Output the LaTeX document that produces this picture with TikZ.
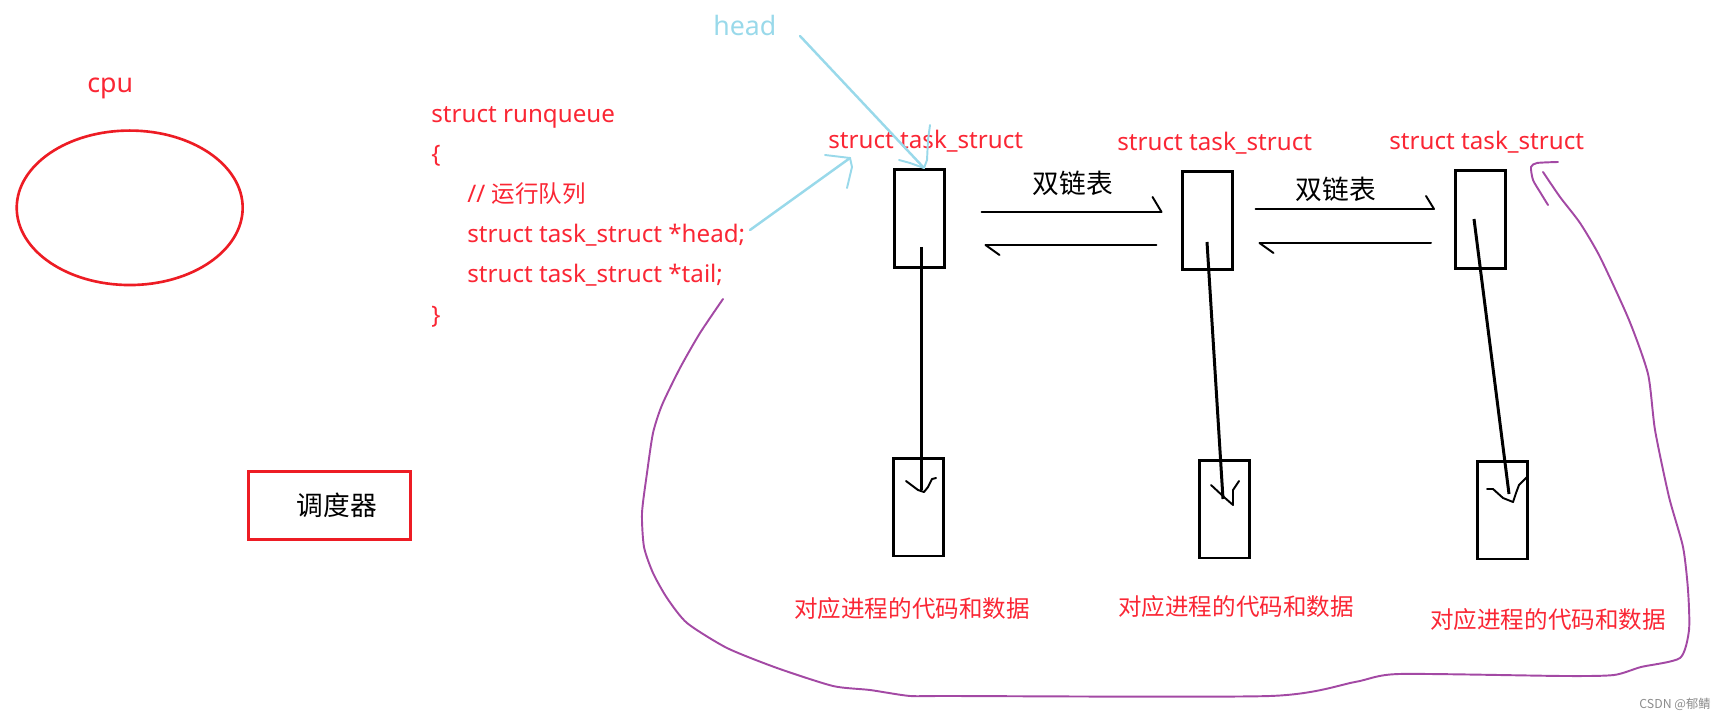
\documentclass[tikz,border=0pt]{standalone}
\usepackage{fontspec}
\setmainfont{Noto Sans}
\newfontfamily\cjk{Noto Sans CJK SC}
\usepackage{xcolor}
\usepackage{tikz}
\usetikzlibrary{calc}
\usetikzlibrary{shapes.geometric}
\definecolor{pred}{RGB}{237,28,36}
\definecolor{tred}{RGB}{250,38,52}
\definecolor{pblue}{RGB}{153,217,234}
\definecolor{ppurple}{RGB}{163,73,164}
\tikzset{
	redtxt/.style={text=tred,font=\fontsize{13.75}{16}\selectfont,inner sep=0pt},
	cjktxt/.style={text=tred,font=\fontsize{13.4}{16}\selectfont\cjk,inner sep=0pt},
	blktxt/.style={text=black,font=\fontsize{15.2}{18}\selectfont\cjk,inner sep=0pt},
	tbox/.style={draw,line width=1.7pt,minimum width=1cm,minimum height=1.96cm,inner sep=0pt},
	link/.style={line width=1.7pt},
	hand/.style={line width=1.1pt,line cap=round,line join=round},
}

\begin{document}
\begin{tikzpicture}[x=0.02cm,y=-0.02cm]
	\useasboundingbox (0,0) rectangle (1723,719);
	% cpu and scheduler
	\node[draw=pred,line width=1.5pt,ellipse,minimum width=4.52cm,minimum height=3.09cm,inner sep=0pt] (cpu) at (129.7,207.8) {};
	\node[anchor=base west,text=tred,font=\fontsize{15.2}{18}\selectfont,inner sep=0pt] (cpulbl) at (87,93) {cpu};
	\node[draw=pred,line width=1.7pt,minimum width=3.24cm,minimum height=1.354cm,inner sep=0pt] (sched) at (329.8,505.4) {};
	\node[blktxt] (schedlbl) at (337,505) {调度器};
	% runqueue code
	\node[redtxt,anchor=base west] (rq1) at (431,123) {struct runqueue};
	\node[redtxt,anchor=base west] (rq2) at (431,163) {\{};
	\node[redtxt,anchor=base west] (rq3) at (467,203) {// {\cjk\fontsize{13.4}{16}\selectfont 运行队列}};
	\node[redtxt,anchor=base west] (rq4) at (467,243) {struct task\_struct *head;};
	\node[redtxt,anchor=base west] (rq5) at (467,283) {struct task\_struct *tail;};
	\node[redtxt,anchor=base west] (rq6) at (431,323) {\}};
	% task_struct boxes
	\node[redtxt,anchor=base west] (lbl1) at (828,149) {struct task\_struct};
	\node[redtxt,anchor=base west] (lbl2) at (1117,151) {struct task\_struct};
	\node[redtxt,anchor=base west] (lbl3) at (1389,150) {struct task\_struct};
	\node[tbox] (t1) at (919,218.5) {};
	\node[tbox] (t2) at (1207,220.5) {};
	\node[tbox] (t3) at (1480.5,219.5) {};
	\node[tbox] (d1) at (918,507) {};
	\node[tbox] (d2) at (1224,509) {};
	\node[tbox] (d3) at (1502.5,510) {};
	\node[cjktxt] (dat1) at (912,609) {对应进程的代码和数据};
	\node[cjktxt] (dat2) at (1236,607) {对应进程的代码和数据};
	\node[cjktxt] (dat3) at (1548,620) {对应进程的代码和数据};
	% doubly linked list
	\node[blktxt] (dl1) at (1073,183) {双链表};
	\node[blktxt] (dl2) at (1336,189) {双链表};
	\draw[hand] ($(t1.east)+(36,-6.5)$) -- ($(t2.west)+(-19,-8.5)$) -- ++(-9,-15);
	\draw[hand] ($(t2.west)+(-24,24.5)$) -- ($(t1.east)+(40,26.5)$) -- ++(14,10);
	\draw[hand] ($(t2.east)+(22,-11.5)$) -- ($(t3.west)+(-20,-10.5)$) -- ++(-8,-13);
	\draw[hand] ($(t3.west)+(-23,23.5)$) -- ($(t2.east)+(26,22.5)$) -- ++(14,10);
	% pointers to the data
	\coordinate (s1) at (921,247);
	\coordinate (e1) at (921,490);
	\coordinate (s2) at (1207,242);
	\coordinate (e2) at (1223,499);
	\coordinate (s3) at (1474,219);
	\coordinate (e3) at (1509,494);
	\draw[link] (s1) -- (e1);
	\draw[link] (s2) -- (e2);
	\draw[link] (s3) -- (e3);
	\draw[hand] (906,481) -- (918,490) -- (924,492) -- (928,487) -- (932,479) -- (936,478);
	\draw[hand] (1211,485) -- (1225,498) -- (1233,505) -- (1233,490) -- (1239,481);
	\draw[hand] (1487,489) -- (1493,489) -- (1503,498) -- (1513,502) -- (1516,493) -- (1519,485) -- (1527,477);
	% head pointer
	\node[anchor=base west,text=pblue,font=\fontsize{15.2}{18}\selectfont,inner sep=0pt] (head) at (713,36) {head};
	\coordinate (hs) at (800,36);
	\coordinate (ht) at (924,168);
	\coordinate (ps) at (750,230);
	\coordinate (pt) at (850,158);
	\draw[pblue,line width=1.4pt,line cap=round] (hs) -- (ht);
	\draw[pblue,hand] (930,125) -- (928,140) -- (927,160) -- (ht);
	\draw[pblue,hand] (899,160) -- (910,163) -- (ht);
	\draw[pblue,line width=1.4pt,line cap=round] (ps) -- (pt);
	\draw[pblue,hand] (825,155) -- (pt) -- (852,167) -- (847,188);
	% tail loop
	\draw[ppurple,hand] plot[smooth,tension=0.4] coordinates {(723,299) (700,333) (680,368) (662,405) (653,433) (647,473) (642,513) (644,547) (653,573) (667,598) (687,623) (727,648) (777,668) (833,686) (870,690) (910,696) (948,696) (1270,696) (1355,682) (1399,674) (1564,676) (1614,675) (1641,667) (1680,658) (1689,630) (1688,590) (1683,547) (1669,497) (1655,430) (1648,374) (1629,320) (1600,257) (1580,223) (1560,197) (1543,172)};
	\draw[ppurple,hand] plot[smooth,tension=0.4] coordinates {(1548,205) (1540,192) (1533,180) (1531,167) (1537,163) (1558,162)};
	\node[text=black!45,font=\fontsize{7}{8}\selectfont\cjk,inner sep=0pt] (mark) at (1675,704) {CSDN @郁鲭};
\end{tikzpicture}
\end{document}
